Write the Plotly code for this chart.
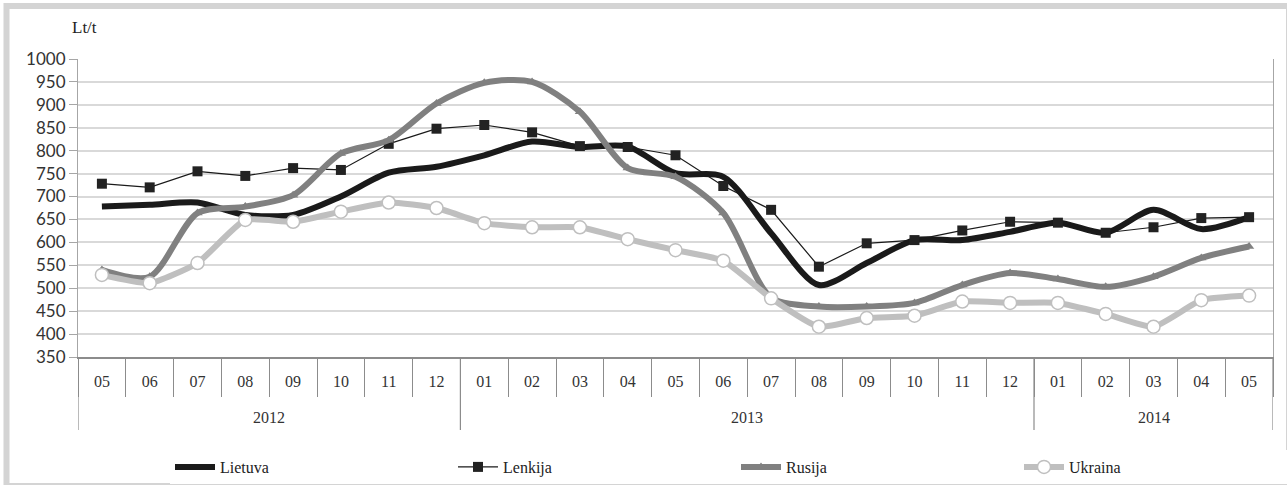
import plotly.graph_objects as go

# kategorijos: metai ir mėnesiai
years = ["2012"] * 8 + ["2013"] * 12 + ["2014"] * 5
months = ["05", "06", "07", "08", "09", "10", "11", "12",
          "01", "02", "03", "04", "05", "06", "07", "08", "09", "10", "11", "12",
          "01", "02", "03", "04", "05"]
year_labels = ["2012", "2013", "2014"]

# kainos, Lt/t
lietuva = [678, 682, 687, 660, 660, 700, 752, 765,
           790, 820, 808, 809, 751, 743, 620, 507, 555, 605, 605, 623,
           643, 621, 671, 629, 655]
lenkija = [728, 720, 755, 745, 762, 758, 815, 848,
           856, 840, 810, 808, 790, 723, 671, 547, 598, 605, 626, 645,
           643, 621, 633, 653, 655]
rusija = [540, 525, 664, 678, 703, 794, 823, 903,
          948, 950, 885, 762, 743, 664, 480, 460, 460, 468, 507, 533,
          520, 503, 525, 566, 591]
ukraina = [529, 511, 555, 649, 645, 667, 687, 675,
           642, 633, 633, 607, 583, 560, 478, 416, 435, 440, 471, 468,
           468, 444, 416, 474, 484]

cats = [f"{y}-{m}" for y, m in zip(years, months)]

fig = go.Figure()

fig.add_trace(go.Scatter(x=cats, y=lietuva, name="Lietuva", mode="lines",
                         line=dict(color="#1a1a1a", width=6, shape="spline", smoothing=0.8)))
fig.add_trace(go.Scatter(x=cats, y=lenkija, name="Lenkija", mode="lines+markers",
                         line=dict(color="#1a1a1a", width=1.2),
                         marker=dict(symbol="square", size=10, color="#222222")))
fig.add_trace(go.Scatter(x=cats, y=rusija, name="Rusija", mode="lines+markers",
                         line=dict(color="#808080", width=6, shape="spline", smoothing=0.8),
                         marker=dict(symbol="triangle-up", size=9, color="#808080")))
fig.add_trace(go.Scatter(x=cats, y=ukraina, name="Ukraina", mode="lines+markers",
                         line=dict(color="#bfbfbf", width=6, shape="spline", smoothing=0.5),
                         marker=dict(symbol="circle", size=13, color="white",
                                     line=dict(color="#bfbfbf", width=1.5))))

# metų grupės: skiriamosios linijos ir užrašai
start = 0
for yl in year_labels:
    n = years.count(yl)
    fig.add_shape(type="line", xref="x", yref="paper", x0=start - 0.5, x1=start - 0.5,
                  y0=0, y1=-73 / 298, line=dict(color="#8c8c8c", width=1.2))
    fig.add_annotation(text=yl, xref="x", yref="paper", x=start + (n - 1) / 2, y=-60 / 298,
                       showarrow=False, yanchor="middle",
                       font=dict(family="Liberation Serif", size=16, color="#333333"))
    start += n
fig.add_shape(type="line", xref="x", yref="paper", x0=start - 0.5, x1=start - 0.5,
              y0=0, y1=-73 / 298, line=dict(color="#8c8c8c", width=1.2))

# rėmelis aplink visą paveikslą
fig.add_shape(type="rect", xref="paper", yref="paper",
              x0=-71.5 / 1195, x1=1211 / 1195, y0=-129 / 298, y1=351 / 298,
              line=dict(color="#d4d4d4", width=6), layer="below")

fig.add_annotation(text="Lt/t", xref="paper", yref="paper", x=-8 / 1195, y=1.105,
                   showarrow=False, xanchor="left", yanchor="middle",
                   font=dict(family="Liberation Serif", size=17, color="#222222"))

fig.update_layout(
    width=1287, height=485,
    margin=dict(l=78, r=14, t=59, b=128, autoexpand=False),
    paper_bgcolor="white", plot_bgcolor="white",
    showlegend=True,
    legend=dict(orientation="h", x=92 / 1195, xanchor="left", y=-110 / 298, yanchor="middle",
                entrywidth=228, entrywidthmode="pixels", itemwidth=40,
                font=dict(family="Liberation Serif", size=16, color="#222222")),
    xaxis=dict(type="category", range=[-0.5, len(cats) - 0.5],
               tickvals=cats, ticktext=months, showgrid=False, showline=True,
               linecolor="#8c8c8c", linewidth=1.5,
               ticks="outside", tickson="boundaries", ticklen=38,
               tickcolor="#8c8c8c", tickwidth=1.2, ticklabelstandoff=9,
               tickfont=dict(family="Liberation Serif", size=16, color="#333333")),
    yaxis=dict(range=[350, 1000], dtick=50, tick0=350, showgrid=True,
               gridcolor="#d9d9d9", gridwidth=1.5, zeroline=False,
               showline=True, linecolor="#a6a6a6", linewidth=1.2, mirror=True,
               ticks="outside", ticklen=8, tickcolor="#a6a6a6",
               tickfont=dict(family="Lato", size=17, color="#333333")),
)

fig.write_html("out.html", config={"displayModeBar": False},
               post_script="document.body.style.margin='0';document.body.style.overflow='hidden';")
